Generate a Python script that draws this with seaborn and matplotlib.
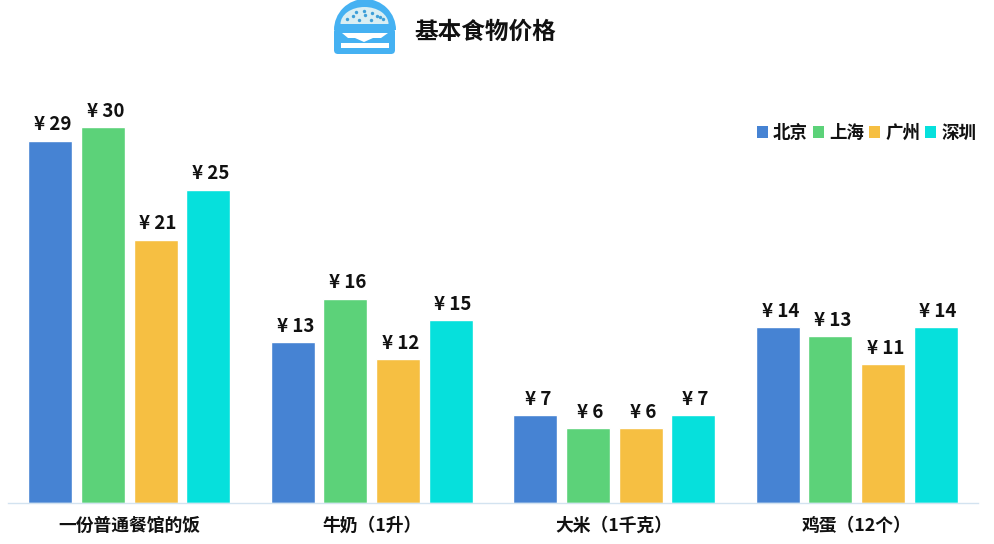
import matplotlib
matplotlib.use('Agg')
import matplotlib.pyplot as plt
from matplotlib.patches import Ellipse, FancyBboxPatch, Polygon, Rectangle, Wedge
import pandas as pd
import seaborn as sns

foods = ['一份普通餐馆的饭', '牛奶（1升）', '大米（1千克）', '鸡蛋（12个）']
cities = ['北京', '上海', '广州', '深圳']
beijing = [28.9, 12.8, 7, 14]
shanghai = [30, 16.3, 6, 13.3]
guangzhou = [21, 11.5, 6, 11.1]
shenzhen = [25, 14.6, 7, 14]
beijing_labels = [29, 13, 7, 14]
shanghai_labels = [30, 16, 6, 13]
guangzhou_labels = [21, 12, 6, 11]
shenzhen_labels = [25, 15, 7, 14]
colors = ['#4683d3', '#5cd279', '#f6bf42', '#06e0dc']

sns.set_theme(style='white')
plt.rcParams['font.family'] = ['Noto Sans CJK SC', 'DejaVu Sans']

rows = []
for city, vals in zip(cities, [beijing, shanghai, guangzhou, shenzhen]):
    for food, v in zip(foods, vals):
        rows.append({'food': food, 'city': city, 'price': v})
df = pd.DataFrame(rows)

W, H = 995, 544
fig = plt.figure(figsize=(W / 100, H / 100), dpi=100)
ax = fig.add_axes([8 / W, (H - 503) / H, 970 / W, 443 / H])

sns.barplot(data=df, x='food', y='price', hue='city', hue_order=cities, palette=colors,
            order=foods, width=0.868, gap=0.165, saturation=1, legend=False, ax=ax)
ax.set_xlim(-0.5, 3.5)
ax.set_ylim(0, 443 / 12.54)
ax.set_xlabel('')
ax.set_ylabel('')
ax.set_yticks([])
ax.tick_params(axis='x', length=0, pad=10)
for label in ax.get_xticklabels():
    label.set_fontsize(12.8)
    label.set_fontweight('bold')
    label.set_color('#111111')
sns.despine(ax=ax, left=True)
ax.spines['bottom'].set_color('#d3e3f0')
ax.spines['bottom'].set_linewidth(1.0)

# value labels, nudged a little right of the bar centre
all_labels = [beijing_labels, shanghai_labels, guangzhou_labels, shenzhen_labels]
for container, labels in zip(ax.containers, all_labels):
    texts = ax.bar_label(container, labels=[f'¥ {v}' for v in labels], padding=4.5, fontsize=13.5,
                         fontweight='bold', color='#111111')
    for t in texts:
        t.xyann = (1.8, 4.5)

# overlay in pixel coordinates for title, icon and legend
over = fig.add_axes([0, 0, 1, 1])
over.set_xlim(0, W)
over.set_ylim(H, 0)
over.axis('off')
over.patch.set_alpha(0)

over.text(414, 32, '基本食物价格', fontsize=17, fontweight='bold', color='#111111', va='center', ha='left')

# burger icon
blue = '#45b1f2'
over.add_patch(Wedge((365, 30), 31, 180, 360, color=blue, lw=0))
over.add_patch(Ellipse((364.5, 24), 48, 34, color='#d9eef3', lw=0))
over.add_patch(Rectangle((338, 24), 54, 8, color=blue, lw=0))
dots_x = [347, 353, 359, 365, 371, 377, 383, 356, 364, 372, 380]
dots_y = [19, 16, 20, 15, 20, 16, 19, 12, 11, 13, 17]
over.scatter(dots_x, dots_y, s=6, color='#3d9fd8', lw=0)
over.add_patch(FancyBboxPatch((334, 28), 61, 26, boxstyle='round,pad=0,rounding_size=4', color=blue, lw=0))
over.add_patch(Polygon([(342, 33), (388, 33), (381, 38), (373, 38), (364, 42), (355, 38), (348, 38)], color='white', lw=0))
over.add_patch(Rectangle((341, 43), 48, 5, color='white', lw=0))

# legend
for x, name, color in zip([757, 813, 869, 925], cities, colors):
    over.add_patch(Rectangle((x, 126), 11, 12, color=color, lw=0))
    over.text(x + 16, 133, name, fontsize=12.6, fontweight='bold', color='#111111', va='center', ha='left')

fig.savefig('out.png', dpi=100, facecolor='white')
